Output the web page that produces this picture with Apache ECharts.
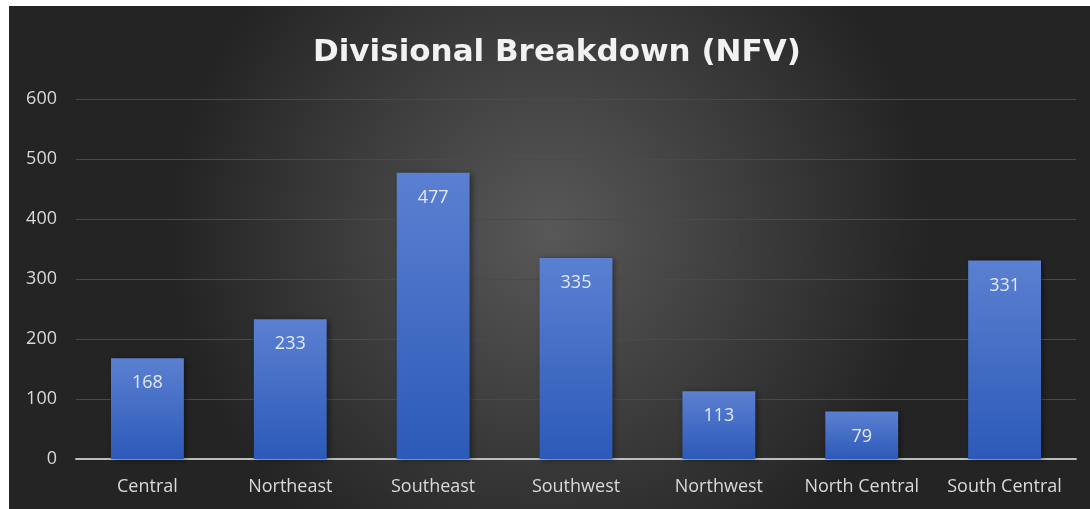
<!DOCTYPE html>
<html>
<head>
<meta charset="utf-8">
<script src="https://cdn.jsdelivr.net/npm/echarts@6/dist/echarts.min.js"></script>
<style>
  html, body { margin: 0; padding: 0; background: #fff; }
  #chart { position: absolute; left: 9px; top: 6px; width: 1081px; height: 503px; }
</style>
</head>
<body>
<div id="chart"></div>
<script>
// divisional data
var divisions = ['Central', 'Northeast', 'Southeast', 'Southwest', 'Northwest', 'North Central', 'South Central'];
var nfvCounts = [168, 233, 477, 335, 113, 79, 331];
var yTicks = [0, 100, 200, 300, 400, 500, 600];

var chartDom = document.getElementById('chart');
var myChart = echarts.init(chartDom);
var option;

var fontName = '"Open Sans", "Noto Sans", sans-serif';

option = {
  backgroundColor: new echarts.graphic.RadialGradient(0.5, 0.45, 0.75, [
    { offset: 0, color: '#585858' },
    { offset: 1, color: '#242424' }
  ]),
  title: {
    text: 'Divisional Breakdown (NFV)',
    left: 299,
    top: 26,
    textStyle: {
      color: '#f2f2f2',
      fontFamily: '"DejaVu Sans", sans-serif',
      fontWeight: 'bold',
      fontSize: 31
    }
  },
  grid: {
    left: 67,
    right: 14,
    top: 93,
    bottom: 50,
    containLabel: false
  },
  xAxis: {
    type: 'category',
    data: divisions,
    axisTick: { show: false },
    axisLine: { lineStyle: { color: '#bdbdbd', width: 2 } },
    axisLabel: {
      interval: 0,
      color: '#d9d9d9',
      fontFamily: fontName,
      fontSize: 18,
      margin: 19
    }
  },
  yAxis: {
    type: 'value',
    min: yTicks[0],
    max: yTicks[yTicks.length - 1],
    interval: 100,
    axisLine: { show: false },
    axisTick: { show: false },
    splitLine: { lineStyle: { color: '#4a4a4a', width: 1 } },
    axisLabel: {
      color: '#d9d9d9',
      fontFamily: fontName,
      fontSize: 18,
      margin: 19
    }
  },
  series: [
    {
      name: 'NFV',
      type: 'bar',
      data: nfvCounts,
      barWidth: '51%',
      itemStyle: {
        color: new echarts.graphic.LinearGradient(0, 0, 0, 1, [
          { offset: 0, color: '#5b80d1' },
          { offset: 1, color: '#2c5ab8' }
        ]),
        shadowColor: 'rgba(0,0,0,0.45)',
        shadowBlur: 6,
        shadowOffsetX: 2,
        shadowOffsetY: 1
      },
      label: {
        show: true,
        position: 'insideTop',
        distance: 16,
        color: '#e4e9f5',
        fontFamily: fontName,
        fontSize: 18
      }
    }
  ]
};

option && myChart.setOption(option);
</script>
</body>
</html>
